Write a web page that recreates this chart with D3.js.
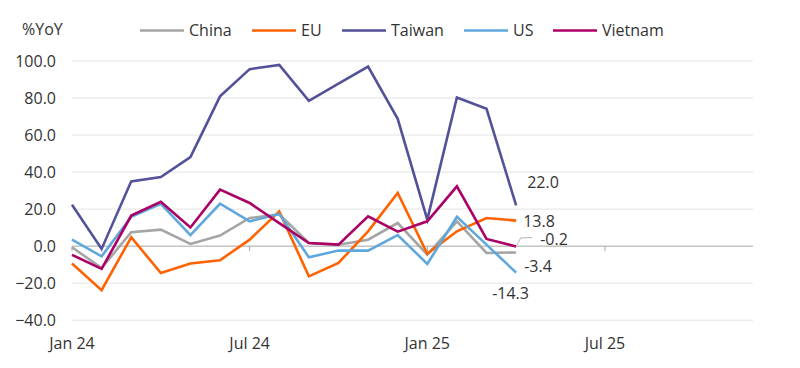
<!DOCTYPE html>
<html><head><meta charset="utf-8">
<script src="https://cdn.jsdelivr.net/npm/d3@7"></script>
<style>body{margin:0;background:#fff}svg{display:block}text{font-family:"Open Sans",Lato,sans-serif;fill:#333}</style>
</head><body><svg id="c" width="800" height="368"></svg>
<script>
const months = ["Jan 24","Feb 24","Mar 24","Apr 24","May 24","Jun 24","Jul 24","Aug 24","Sep 24","Oct 24","Nov 24","Dec 24","Jan 25","Feb 25","Mar 25","Apr 25"];
const axisMonths = ["Jan 24","Feb 24","Mar 24","Apr 24","May 24","Jun 24","Jul 24","Aug 24","Sep 24","Oct 24","Nov 24","Dec 24","Jan 25","Feb 25","Mar 25","Apr 25","May 25","Jun 25","Jul 25","Aug 25","Sep 25","Oct 25","Nov 25","Dec 25"];
const xTickLabels = ["Jan 24","Jul 24","Jan 25","Jul 25"];
const yTicks = [-40,-20,0,20,40,60,80,100];
const seriesNames = ["China","EU","Taiwan","US","Vietnam"];
const seriesColors = ["#a5a5a5","#ff6200","#525199","#60a8dc","#ab0066"];
const china   = [-0.6,-11.8,7.5,8.9,1.2,5.7,15.2,17.2,1.7,0.8,3.5,12.5,-4.6,13.4,-3.7,-3.4];
const eu      = [-9.4,-23.8,4.8,-14.5,-9.4,-7.6,3.5,18.8,-16.3,-9.1,8.0,28.7,-4.1,8.0,15.2,13.8];
const taiwan  = [22.4,-1.5,35.0,37.3,48.1,80.9,95.6,97.9,78.5,87.8,97.0,68.8,14.3,80.3,74.2,22.0];
const us      = [3.5,-5.5,15.8,22.8,6.0,22.9,13.4,17.4,-6.0,-2.4,-2.4,6.0,-9.6,15.8,0.8,-14.3];
const vietnam = [-4.7,-12.3,16.5,24.0,10.1,30.5,23.3,12.4,1.7,0.8,16.1,7.8,13.4,32.3,3.9,-0.2];
const endLabels = ["-3.4","13.8","22.0","-14.3","-0.2"];

const data = [china, eu, taiwan, us, vietnam];
const svg = d3.select("#c");
const x = d3.scalePoint().domain(axisMonths).range([72, 753]);
const y = d3.scaleLinear().domain([-40, 100]).range([320.2, 61]);
const FS = 16;

// gridlines
svg.append("g").selectAll("line").data(yTicks.filter(d => d !== 0)).join("line")
  .attr("x1", 72).attr("x2", 753).attr("y1", d => y(d)).attr("y2", d => y(d))
  .attr("stroke", "#e3e3e3").attr("stroke-width", 1);

// y labels
svg.append("g").selectAll("text").data(yTicks).join("text")
  .attr("x", 56).attr("y", d => y(d)).attr("dy", "0.35em").attr("text-anchor", "end")
  .attr("font-size", FS).text(d => d3.format(".1f")(d));

svg.append("text").attr("x", 22).attr("y", 29).attr("dy", "0.35em").attr("font-size", FS).text("%YoY");

// zero axis
svg.append("line").attr("x1", 72).attr("x2", 753).attr("y1", y(0)).attr("y2", y(0))
  .attr("stroke", "#a6a6a6").attr("stroke-width", 1);
svg.append("g").selectAll("line").data(xTickLabels).join("line")
  .attr("x1", d => x(d)).attr("x2", d => x(d)).attr("y1", y(0)).attr("y2", y(0) + 5)
  .attr("stroke", "#a6a6a6").attr("stroke-width", 1);
svg.append("g").selectAll("text").data(xTickLabels).join("text")
  .attr("x", d => x(d)).attr("y", 343).attr("dy", "0.35em").attr("text-anchor", "middle")
  .attr("font-size", FS).text(d => d);

// lines
const line = d3.line().x((d, i) => x(months[i])).y(d => y(d));
svg.append("g").selectAll("path").data(data).join("path")
  .attr("d", d => line(d)).attr("fill", "none")
  .attr("stroke", (d, i) => seriesColors[i]).attr("stroke-width", 2.6)
  .attr("stroke-linejoin", "miter");

// end labels
const last = months[months.length - 1];
const lx = x(last);
const labelPos = [
  {s:0, dx: 8, dy: 14},
  {s:1, dx: 7, dy: 1},
  {s:2, dx: 11, dy: -23},
  {s:3, dx: -24, dy: 21},
  {s:4, dx: 24, dy: -7}
];
labelPos.forEach(p => {
  const v = data[p.s][data[p.s].length - 1];
  svg.append("text").attr("x", lx + p.dx).attr("y", y(v) + p.dy).attr("dy", "0.35em")
    .attr("font-size", FS).text(endLabels[p.s]);
});
// leader for Vietnam
const vy = y(vietnam[vietnam.length - 1]);
svg.append("path").attr("d", `M${lx},${vy} L${lx + 4.5},${vy - 8.5} L${lx + 16},${vy - 9}`)
  .attr("fill", "none").attr("stroke", "#b5b5b5").attr("stroke-width", 1);

// legend
const legX = [140, 252, 342, 464, 553];
const leg = svg.append("g").selectAll("g").data(seriesNames).join("g")
  .attr("transform", (d, i) => `translate(${legX[i]},30.5)`);
leg.append("line").attr("x1", 0).attr("x2", 44).attr("stroke", (d, i) => seriesColors[i]).attr("stroke-width", 2.6);
leg.append("text").attr("x", 49).attr("dy", "0.35em").attr("font-size", FS).text(d => d);
</script></body></html>
